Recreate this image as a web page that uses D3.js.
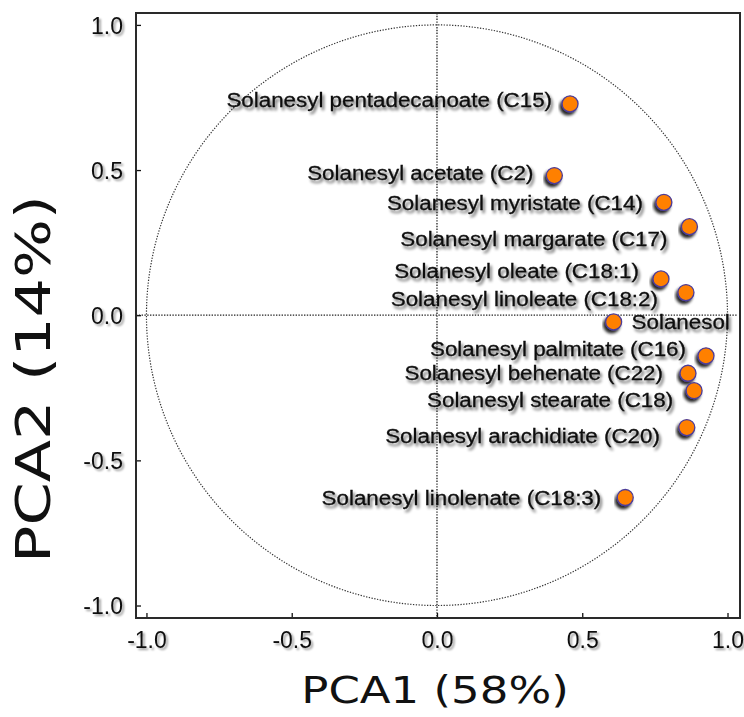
<!DOCTYPE html>
<html>
<head>
<meta charset="utf-8">
<script src="https://cdn.jsdelivr.net/npm/d3@7"></script>
<style>
  body { margin: 0; background: #fff; }
  svg { display: block; }
</style>
</head>
<body>
<svg id="chart" width="744" height="717"></svg>
<script>
// PCA loadings of solanesol and its fatty-acid esters
const compounds = [
  "Solanesyl pentadecanoate (C15)",
  "Solanesyl acetate (C2)",
  "Solanesyl myristate (C14)",
  "Solanesyl margarate (C17)",
  "Solanesyl oleate (C18:1)",
  "Solanesyl linoleate (C18:2)",
  "Solanesol",
  "Solanesyl palmitate (C16)",
  "Solanesyl behenate (C22)",
  "Solanesyl stearate (C18)",
  "Solanesyl arachidiate (C20)",
  "Solanesyl linolenate (C18:3)"
];
const pc1 = [0.458, 0.404, 0.781, 0.869, 0.771, 0.857, 0.608, 0.926, 0.864, 0.885, 0.860, 0.648];
const pc2 = [0.728, 0.481, 0.389, 0.305, 0.125, 0.078, -0.023, -0.140, -0.200, -0.260, -0.387, -0.628];

const tickValues = [-1.0, -0.5, 0.0, 0.5, 1.0];
const tickLabels = ["-1.0", "-0.5", "0.0", "0.5", "1.0"];
const xTitle = "PCA1 (58%)";
const yTitle = "PCA2 (14%)";

// label placement next to each point, in pixels: [dx, dy(baseline), anchor]
const labelOffsets = [
  [-18, 3, "end"], [-21, 4, "end"], [-21, 8, "end"], [-22, 19, "end"],
  [-22, -1, "end"], [-28, 13, "end"], [18, 7, "start"], [-20, 0, "end"],
  [-25, 7, "end"], [-21, 16, "end"], [-27, 15, "end"], [-24, 7, "end"]
];

const frame = { left: 136, right: 740, top: 13, bottom: 618 };

const svg = d3.select("#chart");
const defs = svg.append("defs");

// soft grey drop shadow for text
function shadowFilter(id, dx, dy, blur, alpha) {
  const f = defs.append("filter").attr("id", id)
    .attr("x", "-20%").attr("y", "-50%").attr("width", "140%").attr("height", "200%");
  f.append("feGaussianBlur").attr("in", "SourceAlpha").attr("stdDeviation", blur).attr("result", "b");
  f.append("feOffset").attr("in", "b").attr("dx", dx).attr("dy", dy).attr("result", "o");
  f.append("feComponentTransfer").attr("in", "o").attr("result", "oa")
    .append("feFuncA").attr("type", "linear").attr("slope", alpha);
  const m = f.append("feMerge");
  m.append("feMergeNode").attr("in", "oa");
  m.append("feMergeNode").attr("in", "SourceGraphic");
}
shadowFilter("textShadow", 2, 2.5, 1.5, 0.6);
shadowFilter("tickShadow", 1.5, 1.5, 1.2, 0.4);
shadowFilter("dotShadow", -2, 3, 1.6, 0.85);

defs.append("clipPath").attr("id", "plotClip")
  .append("rect")
  .attr("x", frame.left).attr("y", frame.top)
  .attr("width", frame.right - frame.left - 3)
  .attr("height", frame.bottom - frame.top);

const x = d3.scaleLinear().domain([-1.036, 1.043]).range([frame.left, frame.right]);
const y = d3.scaleLinear().domain([-1.043, 1.041]).range([frame.bottom, frame.top]);

const plot = svg.append("g").attr("clip-path", "url(#plotClip)");

// dotted crosshair through the origin
plot.append("line")
  .attr("x1", x(0)).attr("x2", x(0)).attr("y1", frame.top).attr("y2", frame.bottom)
  .attr("stroke", "#222").attr("stroke-width", 1.3).attr("stroke-dasharray", "1.4,1.4");
plot.append("line")
  .attr("x1", frame.left).attr("x2", frame.right).attr("y1", y(0)).attr("y2", y(0))
  .attr("stroke", "#222").attr("stroke-width", 1.3).attr("stroke-dasharray", "1.4,1.4");

// unit correlation circle
plot.append("ellipse")
  .attr("cx", x(0)).attr("cy", y(0))
  .attr("rx", x(1) - x(0)).attr("ry", y(0) - y(1))
  .attr("fill", "none").attr("stroke", "#333").attr("stroke-width", 1.2)
  .attr("stroke-dasharray", "1.3,1.5");

const items = compounds.map((name, i) => ({ name, px: pc1[i], py: pc2[i], off: labelOffsets[i] }));

// labels (glyphs stretched horizontally)
const labelScale = 1.13;
plot.append("g").selectAll("g.lbl").data(items).join("g")
  .attr("class", "lbl")
  .attr("transform", d => `translate(${x(d.px) + d.off[0]},${y(d.py) + d.off[1]}) scale(${labelScale},1)`)
  .append("text")
  .attr("text-anchor", d => d.off[2])
  .attr("font-family", "'Liberation Sans', Arial, sans-serif")
  .attr("font-size", 19.8)
  .attr("fill", "#0a0a0a")
  .attr("stroke", "#0a0a0a").attr("stroke-width", 0.25)
  .attr("filter", "url(#textShadow)")
  .text(d => d.name);

// markers
plot.append("g").selectAll("circle").data(items).join("circle")
  .attr("cx", d => x(d.px)).attr("cy", d => y(d.py))
  .attr("r", 8)
  .attr("fill", "#ff8000")
  .attr("stroke", "#4b3c9a").attr("stroke-width", 1.3)
  .attr("filter", "url(#dotShadow)");

// axes with inward ticks
const xAxis = d3.axisBottom(x).tickValues(tickValues).tickFormat((d, i) => tickLabels[i])
  .tickSizeInner(-5).tickSizeOuter(0).tickPadding(14);
const yAxis = d3.axisLeft(y).tickValues(tickValues).tickFormat((d, i) => tickLabels[i])
  .tickSizeInner(-5).tickSizeOuter(0).tickPadding(13);

const gx = svg.append("g").attr("transform", `translate(0,${frame.bottom})`).call(xAxis);
const gy = svg.append("g").attr("transform", `translate(${frame.left},0)`).call(yAxis);
[gx, gy].forEach(g => {
  g.select(".domain").remove();
  g.selectAll(".tick line").attr("stroke", "#111").attr("stroke-width", 1.3);
  g.selectAll(".tick text")
    .attr("font-family", "'Liberation Sans', Arial, sans-serif")
    .attr("font-size", 23)
    .attr("fill", "#111")
    .attr("filter", "url(#tickShadow)");
});
gx.selectAll(".tick text").attr("dy", "0.71em").attr("y", 14);
gy.selectAll(".tick text").attr("dy", "0.36em");

// plot frame
svg.append("rect")
  .attr("x", frame.left).attr("y", frame.top)
  .attr("width", frame.right - frame.left).attr("height", frame.bottom - frame.top)
  .attr("fill", "none").attr("stroke", "#2a2a2a").attr("stroke-width", 2);

// axis titles
svg.append("g")
  .attr("transform", `translate(${x(0) - 2},703) scale(1.23,1)`)
  .append("text")
  .attr("text-anchor", "middle")
  .attr("font-family", "'DejaVu Sans', Verdana, sans-serif")
  .attr("font-size", 36.6)
  .attr("fill", "#111")
  .text(xTitle);

svg.append("g")
  .attr("transform", `translate(50,379) rotate(-90) scale(1.29,1)`)
  .append("text")
  .attr("text-anchor", "middle")
  .attr("font-family", "'DejaVu Sans', Verdana, sans-serif")
  .attr("font-size", 48)
  .attr("fill", "#111")
  .text(yTitle);
</script>
</body>
</html>
